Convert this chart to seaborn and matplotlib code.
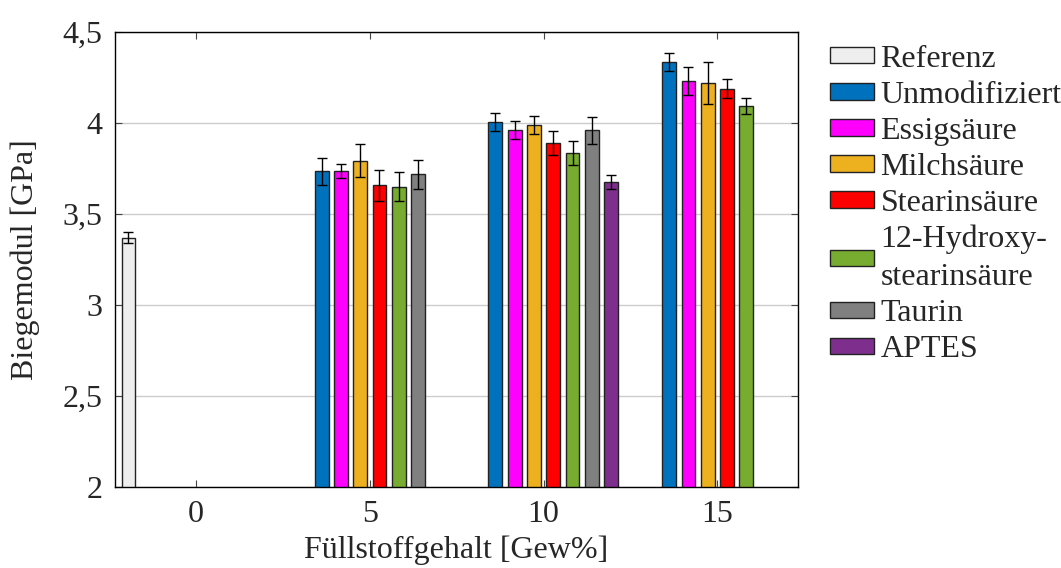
import matplotlib
matplotlib.use('Agg')
import matplotlib.pyplot as plt
import numpy as np
import pandas as pd
import seaborn as sns
from matplotlib.patches import Patch
from matplotlib.ticker import FuncFormatter

nan = np.nan

# Data
groups = ['0', '5', '10', '15']
series = ['Referenz', 'Unmodifiziert', 'Essigsäure', 'Milchsäure', 'Stearinsäure',
          '12-Hydroxy-\nstearinsäure', 'Taurin', 'APTES']
colors = ['#eeeeee', '#0072bd', '#ff00ff', '#edb120', '#ff0000', '#77ac30', '#808080', '#7e2f8e']

referenz = [3.37, nan, nan, nan]
unmod = [nan, 3.735, 4.005, 4.333]
essig = [nan, 3.735, 3.963, 4.232]
milch = [nan, 3.793, 3.990, 4.220]
stearin = [nan, 3.658, 3.890, 4.188]
hydroxy = [nan, 3.650, 3.835, 4.092]
taurin = [nan, 3.718, 3.960, nan]
aptes = [nan, nan, 3.676, nan]

referenz_err = [0.03, nan, nan, nan]
unmod_err = [nan, 0.075, 0.05, 0.05]
essig_err = [nan, 0.04, 0.05, 0.078]
milch_err = [nan, 0.09, 0.05, 0.113]
stearin_err = [nan, 0.085, 0.065, 0.053]
hydroxy_err = [nan, 0.078, 0.065, 0.045]
taurin_err = [nan, 0.08, 0.075, nan]
aptes_err = [nan, nan, 0.037, nan]

values = [referenz, unmod, essig, milch, stearin, hydroxy, taurin, aptes]
errors = [referenz_err, unmod_err, essig_err, milch_err, stearin_err, hydroxy_err,
          taurin_err, aptes_err]

rows = []
for name, vals, errs in zip(series, values, errors):
    for g, v, e in zip(groups, vals, errs):
        if not np.isnan(v):
            rows.append({'gehalt': g, 'probe': name, 'wert': v, 'err': e})
df = pd.DataFrame(rows)

sns.set_style('ticks')
plt.rcParams['font.family'] = ['Liberation Serif', 'DejaVu Serif']
fs = 23

fig = plt.figure(figsize=(10.61, 5.68), dpi=100)
ax = fig.add_axes([0.1084, 0.1426, 0.6436, 0.8011])

palette = dict(zip(series, colors))
sns.barplot(data=df, x='gehalt', y='wert', hue='probe', order=groups, hue_order=series,
            palette=palette, dodge=True, width=0.888, gap=0.28, errorbar=None,
            edgecolor='#222222', linewidth=1, saturation=1, legend=False, ax=ax)

# error bars at the centres of the drawn bars
for cont, name in zip(ax.containers, series):
    sub = df[df['probe'] == name]
    for bar in cont:
        xc = bar.get_x() + bar.get_width() / 2
        g = groups[int(round(xc))]
        row = sub[sub['gehalt'] == g]
        if len(row):
            ax.errorbar(xc, row['wert'].iloc[0], yerr=row['err'].iloc[0], fmt='none',
                        ecolor='black', elinewidth=1, capsize=3.5, capthick=1, zorder=5)

ax.set_ylim(2, 4.5)
ax.set_xlim(-0.466, 3.463)
ax.set_yticks([2, 2.5, 3, 3.5, 4, 4.5])
ax.yaxis.set_major_formatter(FuncFormatter(lambda v, p: ('%g' % v).replace('.', ',')))
ax.yaxis.grid(True, color='#cccccc', lw=1)
ax.set_axisbelow(True)
ax.tick_params(direction='in', top=True, right=True, length=5, width=0.8,
               color='#444444', labelsize=fs, pad=9)
for s in ax.spines.values():
    s.set_linewidth(1)
    s.set_color('black')

ax.set_xlabel('Füllstoffgehalt [Gew%]', fontsize=fs, labelpad=5)
ax.set_ylabel('Biegemodul [GPa]', fontsize=fs, labelpad=16)

handles = [Patch(facecolor=c, edgecolor='#222222', lw=1) for c in colors]
leg = ax.legend(handles, series, loc='upper left', bbox_to_anchor=(1.047, 0.972), frameon=False,
                fontsize=fs, handlelength=1.38, handleheight=0.41, handletextpad=0.2,
                labelspacing=0.22, borderaxespad=0, borderpad=0)
for t in leg.get_texts():
    t.set_linespacing(1.4)

fig.savefig('out.png', dpi=100)
